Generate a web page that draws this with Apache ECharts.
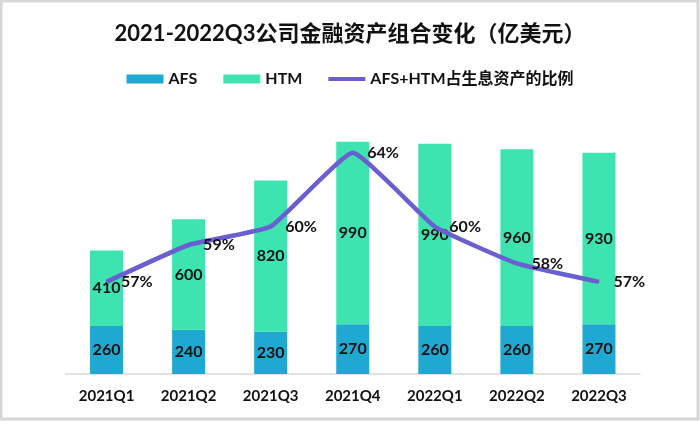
<!DOCTYPE html>
<html><head><meta charset="utf-8">
<script src="https://cdn.jsdelivr.net/npm/echarts@6/dist/echarts.min.js"></script>
<style>html,body{margin:0;padding:0;background:#fff}#c{width:700px;height:421px}</style>
</head><body><div id="c"></div>
<script>
const categories = ['2021Q1','2021Q2','2021Q3','2021Q4','2022Q1','2022Q2','2022Q3'];
const afs = [260, 240, 230, 270, 260, 260, 270];
const htm = [410, 600, 820, 990, 990, 960, 930];
const ratio = [57, 59, 60, 64, 60, 58, 57];
const FF = "Lato, 'Noto Sans CJK SC', sans-serif";
const chart = echarts.init(document.getElementById('c'));
chart.setOption({
  backgroundColor: '#fff',
  animation: false,
  title: {
    text: '2021-2022Q3公司金融资产组合变化（亿美元）',
    left: 'center', top: 18,
    textStyle: { fontFamily: FF, fontSize: 22, fontWeight: 'bold', color: '#111' }
  },
  legend: {
    top: 66, left: 'center',
    itemWidth: 37, itemHeight: 9, itemGap: 26,
    textStyle: { fontFamily: FF, fontSize: 16, fontWeight: 'bold', color: '#111' },
    data: [
      { name: 'AFS', icon: 'rect' },
      { name: 'HTM', icon: 'rect' },
      { name: 'AFS+HTM占生息资产的比例', icon: 'path://M0,0L37,0L37,4L0,4Z' }
    ]
  },
  grid: { left: 65.5, right: 60, top: 116, bottom: 47 },
  xAxis: {
    type: 'category', data: categories,
    axisLine: { lineStyle: { color: '#d9d9d9', width: 1.5 } },
    axisTick: { show: false },
    axisLabel: { fontFamily: FF, fontSize: 15, fontWeight: 'bold', color: '#111', margin: 15 }
  },
  yAxis: [
    { type: 'value', min: 0, max: 1400, show: false, splitLine: { show: false } },
    { type: 'value', min: 52, max: 66, show: false, splitLine: { show: false } }
  ],
  series: [
    {
      name: 'AFS', type: 'bar', stack: 'a', data: afs, barWidth: 33,
      itemStyle: { color: '#1fa9d2' },
      label: { show: true, position: 'inside', fontFamily: FF, fontSize: 16, fontWeight: 'bold', color: '#111' }
    },
    {
      name: 'HTM', type: 'bar', stack: 'a', data: htm, barWidth: 33,
      itemStyle: { color: '#3de4b0' },
      label: { show: true, position: 'inside', fontFamily: FF, fontSize: 16, fontWeight: 'bold', color: '#111' }
    },
    {
      name: 'AFS+HTM占生息资产的比例', type: 'line', yAxisIndex: 1, data: ratio,
      smooth: 0.12, symbol: 'circle', symbolSize: 1, showSymbol: true, z: 3,
      lineStyle: { color: '#6a5fd0', width: 4.5 },
      itemStyle: { color: '#6a5fd0' },
      label: { show: true, position: 'right', distance: 14, formatter: '{c}%',
        fontFamily: FF, fontSize: 16, fontWeight: 'bold', color: '#111' }
    }
  ],
  graphic: [{
    type: 'rect', shape: { x: 1, y: 1, width: 697, height: 418 },
    style: { fill: 'none', stroke: '#d6d6d6', lineWidth: 3 }, silent: true
  }]
});
</script></body></html>
